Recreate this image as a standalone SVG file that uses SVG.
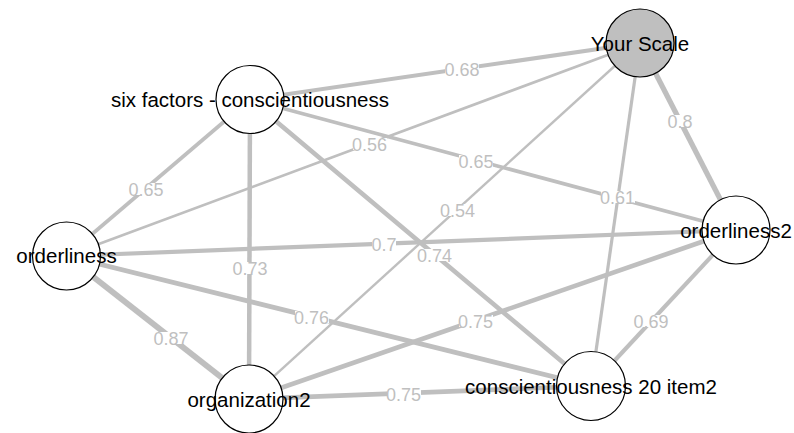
<svg xmlns="http://www.w3.org/2000/svg" width="794" height="433" viewBox="0 0 794 433">
<style>
.e{stroke:#bfbfbf;stroke-linecap:butt;fill:none}
.lb{fill:#ffffff}
.lt{font-family:"Liberation Sans",Arial,sans-serif;font-size:18px;fill:#bfbfbf;text-anchor:middle}
.n{stroke:#000000;stroke-width:1.2;fill:#ffffff}
.ys{fill:#bfbfbf}
.nt{font-family:"Liberation Sans",Arial,sans-serif;font-size:20.5px;fill:#000000;text-anchor:middle}
</style>
<rect width="794" height="433" fill="#ffffff"/>
<g id="connectors">
<line class="e" x1="250" y1="99.5" x2="640" y2="43" stroke-width="4"/>
<line class="e" x1="250" y1="99.5" x2="66.5" y2="256" stroke-width="3.7"/>
<line class="e" x1="250" y1="99.5" x2="249" y2="399" stroke-width="4.5"/>
<line class="e" x1="250" y1="99.5" x2="736" y2="230" stroke-width="3.7"/>
<line class="e" x1="250" y1="99.5" x2="591" y2="386" stroke-width="4.6"/>
<line class="e" x1="640" y1="43" x2="66.5" y2="256" stroke-width="2.7"/>
<line class="e" x1="640" y1="43" x2="249" y2="399" stroke-width="2.4"/>
<line class="e" x1="640" y1="43" x2="591" y2="386" stroke-width="3.2"/>
<line class="e" x1="640" y1="43" x2="736" y2="230" stroke-width="5.2"/>
<line class="e" x1="66.5" y1="256" x2="736" y2="230" stroke-width="4.2"/>
<line class="e" x1="66.5" y1="256" x2="249" y2="399" stroke-width="6"/>
<line class="e" x1="66.5" y1="256" x2="591" y2="386" stroke-width="4.8"/>
<line class="e" x1="249" y1="399" x2="736" y2="230" stroke-width="4.7"/>
<line class="e" x1="249" y1="399" x2="591" y2="386" stroke-width="4.7"/>
<line class="e" x1="736" y1="230" x2="591" y2="386" stroke-width="4.1"/>
<g id="edge-labels">
<rect class="lb" x="445" y="63" width="34" height="12"/><text class="lt" x="462" y="76">0.68</text>
<rect class="lb" x="129" y="183" width="34" height="12"/><text class="lt" x="146" y="196">0.65</text>
<rect class="lb" x="233" y="262" width="34" height="12"/><text class="lt" x="250" y="275">0.73</text>
<rect class="lb" x="459" y="155" width="34" height="12"/><text class="lt" x="476" y="167.5">0.65</text>
<rect class="lb" x="418" y="249" width="34" height="12"/><text class="lt" x="434.5" y="261.5">0.74</text>
<rect class="lb" x="353" y="138" width="34" height="12"/><text class="lt" x="369.5" y="151">0.56</text>
<rect class="lb" x="441" y="204" width="34" height="12"/><text class="lt" x="457.5" y="217">0.54</text>
<rect class="lb" x="601" y="191" width="34" height="12"/><text class="lt" x="617.5" y="204">0.61</text>
<rect class="lb" x="668" y="115" width="24" height="12"/><text class="lt" x="680" y="128">0.8</text>
<rect class="lb" x="372" y="238" width="24" height="12"/><text class="lt" x="384" y="251">0.7</text>
<rect class="lb" x="154" y="332" width="34" height="12"/><text class="lt" x="171" y="345">0.87</text>
<rect class="lb" x="295" y="311" width="34" height="12"/><text class="lt" x="311.5" y="324">0.76</text>
<rect class="lb" x="459" y="315" width="34" height="12"/><text class="lt" x="475.5" y="328">0.75</text>
<rect class="lb" x="387" y="388" width="34" height="12"/><text class="lt" x="403.5" y="400.5">0.75</text>
<rect class="lb" x="634" y="315" width="34" height="12"/><text class="lt" x="651" y="328">0.69</text>
</g>
</g>
<g id="node-your-scale"><circle class="n ys" cx="640" cy="43" r="34"/><text class="nt" x="640" y="51">Your Scale</text></g>
<g id="node-six-factors"><circle class="n" cx="250" cy="99.5" r="34"/><text class="nt" x="250" y="107">six factors - conscientiousness</text></g>
<g id="node-orderliness"><circle class="n" cx="66.5" cy="256" r="34"/><text class="nt" x="66.5" y="263">orderliness</text></g>
<g id="node-orderliness2"><circle class="n" cx="736" cy="230" r="34"/><text class="nt" x="736" y="237.5">orderliness2</text></g>
<g id="node-organization2"><circle class="n" cx="249" cy="399" r="34"/><text class="nt" x="249" y="406.5">organization2</text></g>
<g id="node-c20"><circle class="n" cx="591" cy="386" r="34.5"/><text class="nt" x="591" y="393.5">conscientiousness 20 item2</text></g>
</svg>
